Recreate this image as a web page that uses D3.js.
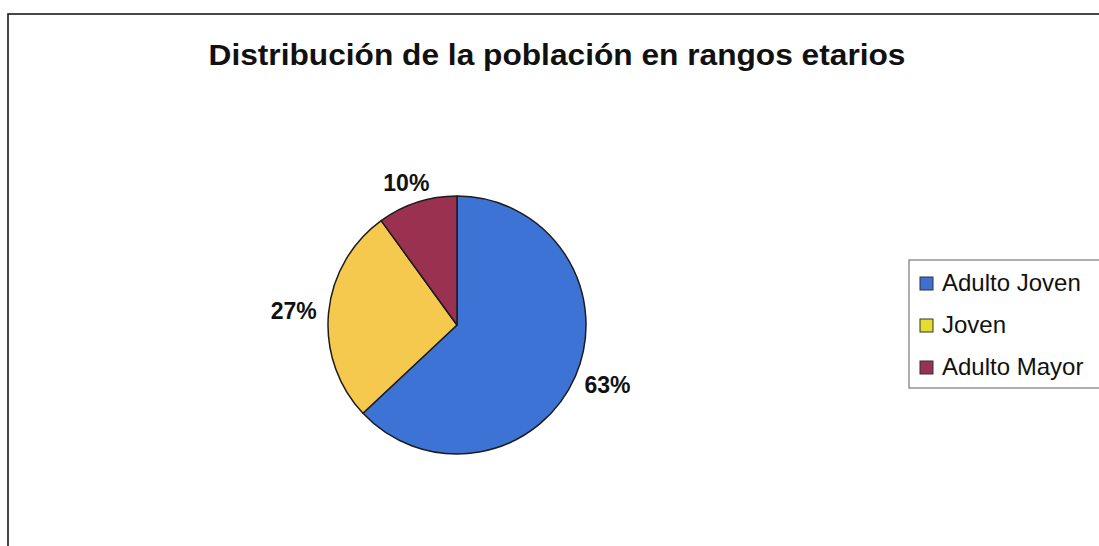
<!DOCTYPE html>
<html>
<head>
<meta charset="utf-8">
<script src="https://cdn.jsdelivr.net/npm/d3@7"></script>
<style>
  html, body { margin: 0; padding: 0; background: #ffffff; }
  svg { display: block; }
</style>
</head>
<body>
<svg id="chart" width="1099" height="546"></svg>
<script>
const title = "Distribución de la población en rangos etarios";
const categories = ["Adulto Joven", "Joven", "Adulto Mayor"];
const values = [63, 27, 10];
const labels = ["63%", "27%", "10%"];
const sliceColors = ["#3c73d5", "#f5c84e", "#9b3150"];
const swatchColors = ["#3f6fd2", "#e4dc2e", "#983254"];

const svg = d3.select("#chart");
const W = 1099, H = 546;

// outer chart border (extends past the right and bottom edges)
svg.append("rect")
  .attr("x", 8).attr("y", 14)
  .attr("width", W + 20).attr("height", H + 20)
  .attr("fill", "#ffffff")
  .attr("stroke", "#1a1a1a")
  .attr("stroke-width", 1.6);

// title
svg.append("text")
  .attr("x", 557).attr("y", 65)
  .attr("text-anchor", "middle")
  .attr("font-family", "Liberation Sans, Arial, sans-serif")
  .attr("font-weight", "bold")
  .attr("font-size", 29)
  .attr("fill", "#111")
  .attr("textLength", 697)
  .attr("lengthAdjust", "spacingAndGlyphs")
  .text(title);

// pie
const cx = 457, cy = 325, R = 129;
const pie = d3.pie().sort(null).value(d => d)(values);
const arc = d3.arc().innerRadius(0).outerRadius(R);
const g = svg.append("g").attr("transform", `translate(${cx},${cy})`);

g.selectAll("path.slice")
  .data(pie)
  .join("path")
  .attr("class", "slice")
  .attr("d", arc)
  .attr("fill", (d, i) => sliceColors[i])
  .attr("stroke", "#1c1c1c")
  .attr("stroke-width", 1.5)
  .attr("stroke-linejoin", "round");

// labels placed outside the end of each slice
const gap = 12;
pie.forEach((d, i) => {
  const mid = (d.startAngle + d.endAngle) / 2;
  const dx = Math.sin(mid), dy = -Math.cos(mid);
  const px = dx * (R + gap), py = dy * (R + gap);
  const t = g.append("text")
    .attr("font-family", "Liberation Sans, Arial, sans-serif")
    .attr("font-weight", "bold")
    .attr("font-size", 23)
    .attr("fill", "#111")
    .attr("text-anchor", "middle")
    .text(labels[i]);
  const bb = t.node().getBBox();
  const w = bb.width, h = 17;
  const ccx = px + dx * w / 2;
  const ccy = py + dy * h / 2;
  t.attr("x", ccx).attr("y", ccy + h / 2);
});

// legend
const lg = svg.append("g");
lg.append("rect")
  .attr("x", 909).attr("y", 260)
  .attr("width", 220).attr("height", 128)
  .attr("fill", "#ffffff")
  .attr("stroke", "#7a7a7a")
  .attr("stroke-width", 1.2);

const rowY = d3.scalePoint().domain(categories).range([284, 368]);
categories.forEach((c, i) => {
  const y = rowY(c);
  lg.append("rect")
    .attr("x", 920).attr("y", y - 7)
    .attr("width", 13).attr("height", 13)
    .attr("fill", swatchColors[i])
    .attr("stroke", "#333")
    .attr("stroke-width", 1);
  lg.append("text")
    .attr("x", 942).attr("y", y + 7)
    .attr("font-family", "Liberation Sans, Arial, sans-serif")
    .attr("font-size", 24)
    .attr("fill", "#111")
    .text(c);
});
</script>
</body>
</html>
